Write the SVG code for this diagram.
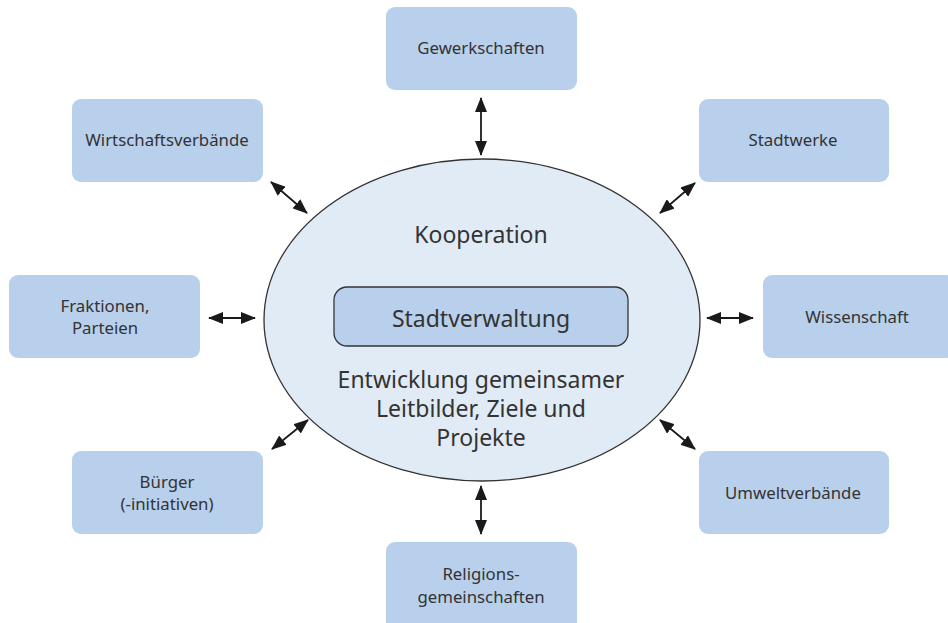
<svg xmlns="http://www.w3.org/2000/svg" width="948" height="623" viewBox="0 0 948 623">
<defs>
<style>
.box{fill:#b9d0ec;}
.lbl{font-family:"Noto Sans","Open Sans",sans-serif;font-size:16.8px;fill:#333;text-anchor:middle;}
.big{font-family:"Noto Sans","Open Sans",sans-serif;font-size:23px;fill:#333;text-anchor:middle;}
.conn{stroke:#1a1a1a;stroke-width:1.8;fill:none;marker-start:url(#ah);marker-end:url(#ah);}
</style>
<marker id="ah" viewBox="0 0 15 12" refX="14" refY="6" markerWidth="15" markerHeight="12" orient="auto-start-reverse" markerUnits="userSpaceOnUse">
<path d="M0,0 L15,6 L0,12 z" fill="#1a1a1a"/>
</marker>
</defs>
<rect width="948" height="623" fill="#fff"/>
<g id="center">
<ellipse cx="482" cy="320" rx="218" ry="161" fill="#e1ebf6" stroke="#333" stroke-width="1.3"/>
<text class="big" x="481" y="243" font-size="22.5">Kooperation</text>
<rect x="334" y="287" width="294" height="59" rx="13" fill="#b9d0ec" stroke="#333" stroke-width="1.3"/>
<text class="big" x="481" y="327" font-size="24">Stadtverwaltung</text>
<text class="big" x="481" y="388">Entwicklung gemeinsamer</text>
<text class="big" x="481" y="417">Leitbilder, Ziele und</text>
<text class="big" x="481" y="446">Projekte</text>
</g>
<g id="gewerkschaften"><rect class="box" x="386" y="7" width="191" height="83" rx="9"/><text class="lbl" x="481" y="54">Gewerkschaften</text></g>
<g id="wirtschaftsverbaende"><rect class="box" x="72" y="99" width="191" height="83" rx="9"/><text class="lbl" x="167" y="146">Wirtschaftsverbände</text></g>
<g id="stadtwerke"><rect class="box" x="699" y="99" width="190" height="83" rx="9"/><text class="lbl" x="793" y="146">Stadtwerke</text></g>
<g id="fraktionen"><rect class="box" x="9" y="275" width="191" height="83" rx="9"/><text class="lbl" x="105" y="312">Fraktionen,</text><text class="lbl" x="105" y="334">Parteien</text></g>
<g id="wissenschaft"><rect class="box" x="763" y="275" width="192" height="83" rx="9"/><text class="lbl" x="857" y="323">Wissenschaft</text></g>
<g id="buerger"><rect class="box" x="72" y="451" width="191" height="83" rx="9"/><text class="lbl" x="167" y="488">Bürger</text><text class="lbl" x="167" y="510">(-initiativen)</text></g>
<g id="umweltverbaende"><rect class="box" x="699" y="451" width="190" height="83" rx="9"/><text class="lbl" x="793" y="499">Umweltverbände</text></g>
<g id="religion"><rect class="box" x="386" y="542" width="191" height="90" rx="9"/><text class="lbl" x="481" y="580">Religions-</text><text class="lbl" x="481" y="603">gemeinschaften</text></g>
<g id="connectors">
<line class="conn" x1="481" y1="98" x2="481" y2="155"/>
<line class="conn" x1="481" y1="486" x2="481" y2="534"/>
<line class="conn" x1="209" y1="318" x2="255" y2="318"/>
<line class="conn" x1="707" y1="318" x2="753" y2="318"/>
<line class="conn" x1="271" y1="182" x2="307" y2="213"/>
<line class="conn" x1="695" y1="183" x2="660" y2="213"/>
<line class="conn" x1="272" y1="449" x2="308" y2="420"/>
<line class="conn" x1="660" y1="420" x2="695" y2="449"/>
</g>
</svg>
